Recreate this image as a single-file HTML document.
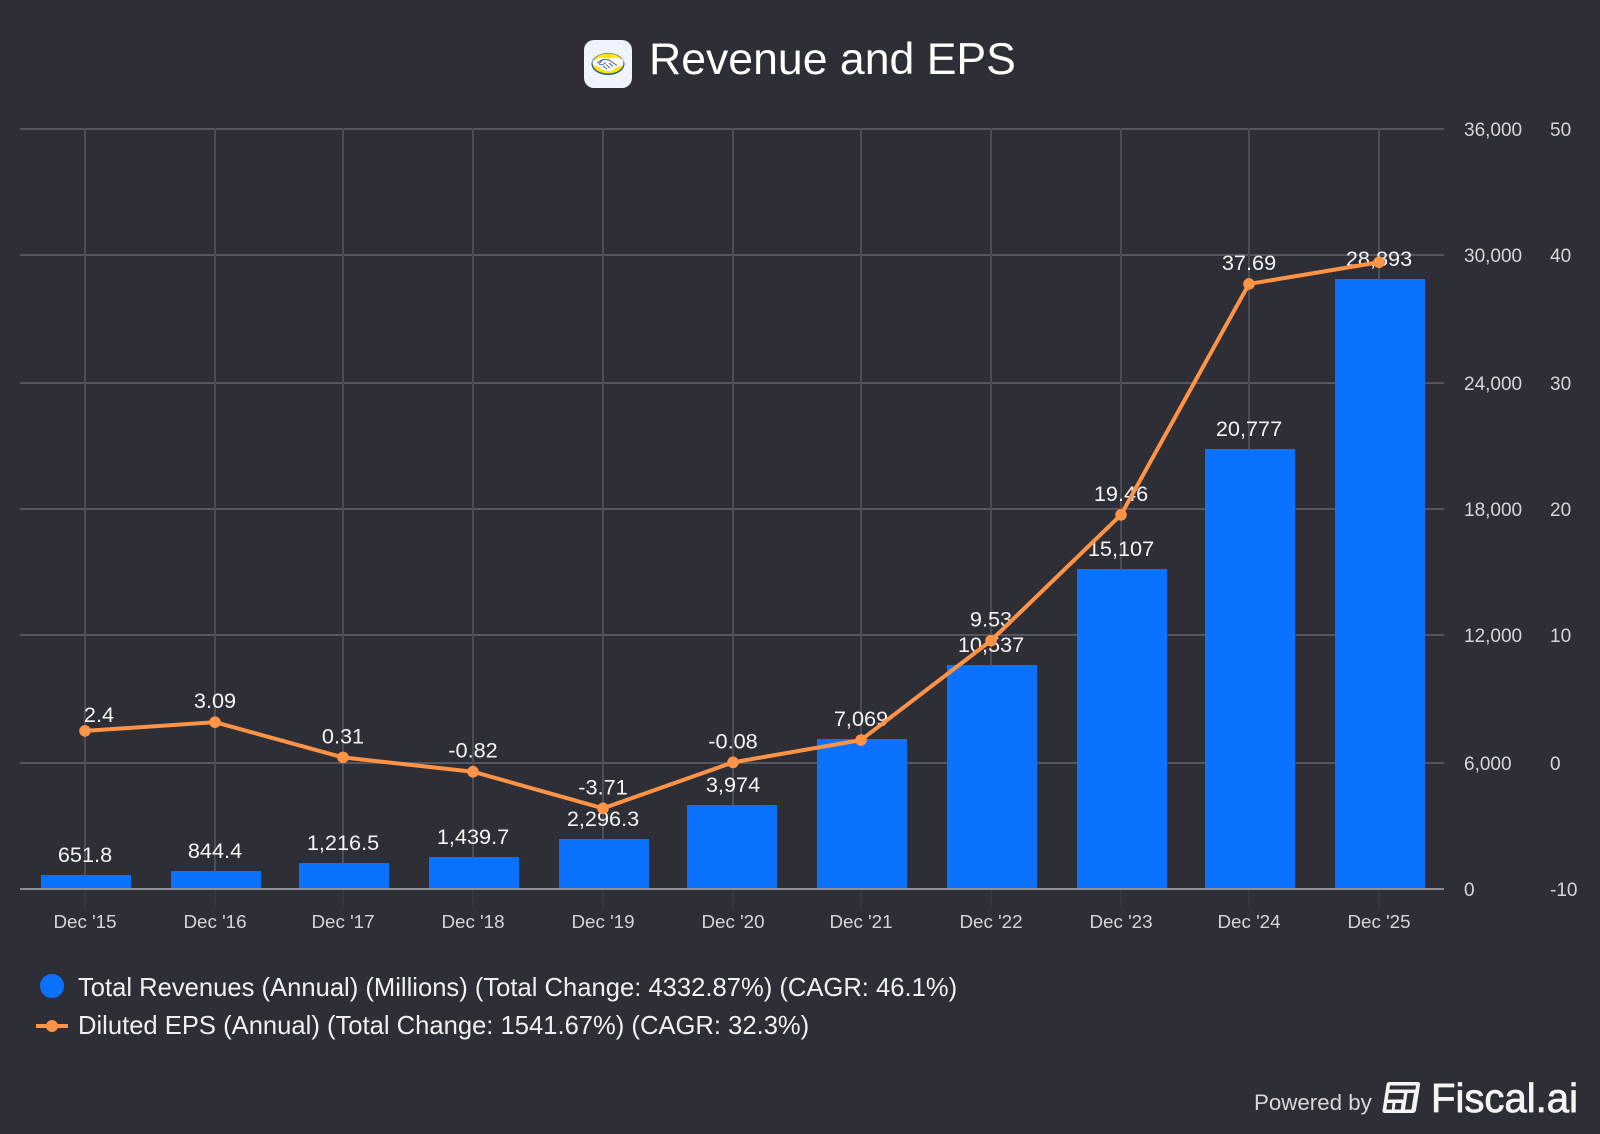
<!DOCTYPE html>
<html lang="en">
<head>
<meta charset="utf-8">
<title>Revenue and EPS</title>
<style>
html,body{margin:0;padding:0;background:#2d2e36;}
body{width:1600px;height:1134px;overflow:hidden;}
svg{display:block;font-family:"Liberation Sans",Arial,sans-serif;}
</style>
</head>
<body>
<svg id="chart" xmlns="http://www.w3.org/2000/svg" width="1600" height="1134" viewBox="0 0 1600 1134">
  <rect x="0" y="0" width="1600" height="1134" fill="#2d2e36"/>

  <g>
    <rect x="584" y="40" width="48" height="48" rx="10" ry="10" fill="#f0f4fd"/>
    <ellipse cx="608" cy="64" rx="16.500" ry="11" fill="#1f4f8f"/>
    <ellipse cx="608" cy="63.500" rx="15.500" ry="10" fill="#fde20a"/>
    <path d="M592.500 61 Q600 56 608 58.500 Q616 56 623.500 60 L623 65.500 Q616 67 611.500 71 Q604 71.500 600 68 Q596 66 593 65 Z" fill="#ffffff"/>
    <path d="M597 63 L603 59.500 L609 60 L617 65.500 M603 59.500 L599 64 L602 65 L606 62.500 M603 66 L607 69 M606 64.500 L610 68 M609 63 L613 66.500" stroke="#3d5f92" stroke-width="0.9" fill="none"/>
  </g>
  <text x="649" y="74" font-size="44.6" fill="#ffffff">Revenue and EPS</text>

  <g id="grid"></g>
  <g id="bars"></g>
  <g id="barLabels"></g>
  <g id="baseline"></g>
  <g id="epsLabels"></g>
  <polyline id="epsLine" fill="none" stroke="#ff9447" stroke-width="4" stroke-linejoin="round" stroke-linecap="round"/>
  <g id="epsDots"></g>
  <g id="xLabels"></g>
  <g id="leftAxis"></g>
  <g id="rightAxis"></g>

  <g>
    <circle cx="52" cy="986" r="12" fill="#0a72ff"/>
    <text x="78" y="996" font-size="25.6" fill="#f0f0f2">Total Revenues (Annual) (Millions) (Total Change: 4332.87%) (CAGR: 46.1%)</text>
  </g>
  <g>
    <rect x="36" y="1024" width="32" height="4" fill="#ff9447"/>
    <circle cx="52" cy="1026" r="6" fill="#ff9447"/>
    <text x="78" y="1034" font-size="25.6" fill="#f0f0f2">Diluted EPS (Annual) (Total Change: 1541.67%) (CAGR: 32.3%)</text>
  </g>

  <g>
    <text x="1254" y="1110" font-size="22.3" fill="#d8d8dc">Powered by</text>
    <g>
      <path d="M1389 1082 H1417.500 Q1420.500 1082 1420 1085 L1416 1110 Q1415.500 1113 1412 1113 H1385 Q1382 1113 1382.600 1110 L1386.500 1085 Q1387 1082 1389 1082 Z" fill="#f4f4f4"/>
      <path d="M1390 1085.500 H1416 L1415.400 1089.500 H1389.400 Z" fill="#2d2e36"/>
      <path d="M1388.800 1093 H1404 L1403.200 1099.500 H1387.800 Z" fill="#2d2e36"/>
      <path d="M1407.500 1093 H1414 L1411.500 1109.500 H1405 Z" fill="#2d2e36"/>
      <path d="M1387.300 1103 H1392.500 L1391.800 1109.500 H1386.300 Z" fill="#2d2e36"/>
      <path d="M1395.500 1103 H1401.500 L1400.800 1109.500 H1394.700 Z" fill="#2d2e36"/>
    </g>
    <text x="1431" y="1112" font-size="41" textLength="147" lengthAdjust="spacingAndGlyphs" fill="#f4f4f4" stroke="#f4f4f4" stroke-width="0.8">Fiscal.ai</text>
  </g>
</svg>

<script>
// ---- chart data ----
var categories = ["Dec '15","Dec '16","Dec '17","Dec '18","Dec '19","Dec '20","Dec '21","Dec '22","Dec '23","Dec '24","Dec '25"];
var revenueValues = [651.8, 844.4, 1216.5, 1439.7, 2296.3, 3974, 7069, 10537, 15107, 20777, 28893];
var epsValues = [2.4, 3.09, 0.31, -0.82, -3.71, -0.08, 1.68, 9.53, 19.46, 37.69, 39.4];
var epsPrinted = ["2.4", "3.09", "0.31", "-0.82", "-3.71", "-0.08", "", "9.53", "19.46", "37.69", ""];
var revenueTicks = [0, 6000, 12000, 18000, 24000, 30000, 36000];
var revenueTickLabels = ["0", "6,000", "12,000", "18,000", "24,000", "30,000", "36,000"];
var epsTickLabels = ["-10", "0", "10", "20", "30", "40", "50"];

// ---- scales ----
var NS = 'http://www.w3.org/2000/svg';
var revMax = 36000, epsMin = -10, epsMax = 50, plotBottom = 888, plotHeight = 760;
function snap(y){ return 2 * Math.round(y / 2) + 1; }
function xPos(i){ return 2 * Math.round(42 + 64.7 * i) + 1; }
function barLeft(i){ return 2 * Math.round(19.98 + 64.7 * i) + 1; }
function yGrid(v){ return snap(plotBottom - v / revMax * plotHeight); }
function yRev(v){ return snap(plotBottom - 1 - v / revMax * plotHeight); }
function yEps(v){ return plotBottom - (v - epsMin) / (epsMax - epsMin) * plotHeight; }
function fmtRev(v){
  var d = v < 3000 ? 1 : 0;
  return v.toLocaleString('en-US', {minimumFractionDigits: d, maximumFractionDigits: d});
}
function make(tag, parentId, props, text){
  var el = document.createElementNS(NS, tag);
  for (var k in props) el.setAttribute(k, props[k]);
  if (text !== undefined) el.textContent = text;
  document.getElementById(parentId).appendChild(el);
  return el;
}

// ---- gridlines ----
revenueTicks.forEach(function(t, i){
  if (i === 0) return;
  var el = make('rect', 'grid', {x: 20, y: yGrid(t) - 1, width: 1424, height: 2, fill: '#555660', 'shape-rendering': 'crispEdges'});
  
  
});
categories.forEach(function(c, i){
  var el = make('rect', 'grid', {x: xPos(i) - 1, y: 128, width: 2, height: 760, fill: '#4b4c56', 'shape-rendering': 'crispEdges'});
  
  
  var tick = make('rect', 'grid', {x: xPos(i) - 1, y: 890, width: 2, height: 17, fill: '#36373a', 'shape-rendering': 'crispEdges'});
  
  
});

// ---- baseline ----
var base = make('rect', 'baseline', {x: 20, y: 888, width: 1424, height: 2, fill: '#8f8f97', 'shape-rendering': 'crispEdges'});



// ---- revenue bars + labels ----
revenueValues.forEach(function(v, i){
  var top = yRev(v);
  var bar = make('rect', 'bars', {x: barLeft(i), y: top, width: 90, height: 888 - top, fill: '#0a72ff', 'shape-rendering': 'crispEdges'});
  
  
  var lab = make('text', 'barLabels', {x: xPos(i), y: top - 13, 'text-anchor': 'middle', 'font-size': 21.7, fill: '#f4f4f6'}, fmtRev(v));
  
  
});

// ---- EPS line ----
document.getElementById('epsLine').setAttribute('points', epsValues.map(function(v, i){
  return xPos(i) + ',' + yEps(v).toFixed(2);
}).join(' '));
epsValues.forEach(function(v, i){
  var dot = make('circle', 'epsDots', {cx: xPos(i), cy: yEps(v).toFixed(2), r: 5.8, fill: '#ff9447'});
  
  
  if (!epsPrinted[i]) return;
  var dx = i === 0 ? 14 : 0;
  var dy = i === 0 ? -9 : -14;
  var lab = make('text', 'epsLabels', {x: xPos(i) + dx, y: (yEps(v) + dy).toFixed(2), 'text-anchor': 'middle', 'font-size': 21.7, fill: '#f4f4f6'}, epsPrinted[i]);
  
  
});

// ---- axis labels ----
categories.forEach(function(c, i){
  var lab = make('text', 'xLabels', {x: xPos(i), y: 928, 'text-anchor': 'middle', 'font-size': 18.8, fill: '#d6d6da'}, c);
  
  
});
revenueTicks.forEach(function(t, i){
  var y = yGrid(t) + 7;
  var l = make('text', 'leftAxis', {x: 1464, y: y, 'font-size': 19, fill: '#d6d6da'}, revenueTickLabels[i]);
  
  
  var r = make('text', 'rightAxis', {x: 1550, y: y, 'font-size': 19, fill: '#d6d6da'}, epsTickLabels[i]);
  
  
});
</script>
</body>
</html>
